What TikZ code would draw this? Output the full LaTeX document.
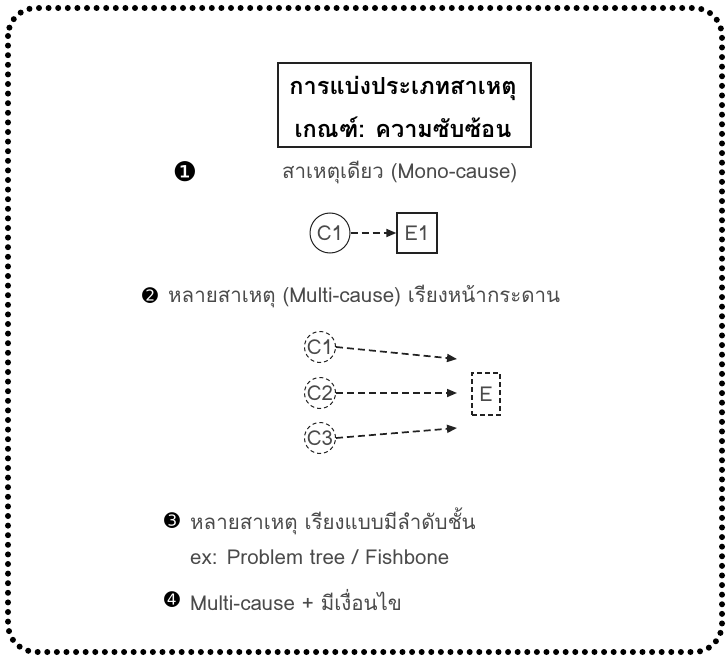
\documentclass[tikz,border=0pt]{standalone}
\usepackage{fontspec}
\setmainfont[Script=Thai]{Loma}
\newfontfamily\thai[Script=Thai]{Loma}
\newfontfamily\dejavu{DejaVu Sans}
\usetikzlibrary{arrows.meta}
\definecolor{txt}{HTML}{4A4A4A}
\definecolor{ln}{HTML}{222222}
\tikzset{
  body/.style={text=txt, font=\thai\fontsize{20.5}{24}\selectfont, inner sep=0pt},
  num/.style={text=black, font=\dejavu\fontsize{19}{20}\selectfont, inner sep=0pt},
  cause/.style={circle, draw=ln, line width=1pt, inner sep=1pt, minimum size=40pt, text=txt, font=\thai\fontsize{20.5}{24}\selectfont},
  dcause/.style={circle, draw=ln, dash pattern=on 4pt off 3pt, line width=1pt, inner sep=0pt, minimum size=31pt, text=txt, font=\thai\fontsize{20.5}{24}\selectfont},
  effect/.style={draw=ln, line width=1.3pt, minimum size=40pt, inner sep=0pt, text=txt, font=\thai\fontsize{20.5}{24}\selectfont},
  deffect/.style={draw=ln, dash pattern=on 5pt off 3pt, line width=1.4pt, minimum width=28pt, minimum height=42pt, inner sep=0pt, text=txt, font=\thai\fontsize{20.5}{24}\selectfont},
  link/.style={draw=ln, line width=1.7pt, dash pattern=on 7pt off 4pt, -{Triangle[length=10pt,width=8pt]}},
}
\begin{document}
\begin{tikzpicture}[x=1pt,y=-1pt]
\useasboundingbox (0,0) rectangle (727,660);
% dotted border
\draw[line width=6pt, line cap=round, dash pattern=on 0pt off 9.6pt, rounded corners=28pt]
  (8,8) rectangle (722,652);
% title
\node[draw=ln, line width=2pt, minimum width=253pt, minimum height=84pt, inner sep=0pt] (title) at (404,105) {};
\node[font=\thai\bfseries\fontsize{23.5}{26}\selectfont, inner sep=0pt] (t1) at (403,88) {การแบ่งประเภทสาเหตุ};
\node[font=\thai\bfseries\fontsize{23.5}{26}\selectfont, inner sep=0pt] (t2) at (403,127) {เกณฑ์: ความซับซ้อน};
% 1
\node[num, font=\dejavu\fontsize{27}{28}\selectfont] (n1) at (185,172) {❶};
\node[body, anchor=west] (s1) at (282,172) {สาเหตุเดียว (Mono-cause)};
\node[cause] (c1) at (330,233) {C1};
\node[effect] (e1) at (417,233) {E1};
\draw[link] (c1) -- (e1.west);
% 2
\node[num] (n2) at (150,296) {➋};
\node[body, anchor=west] (s2) at (168,296) {หลายสาเหตุ (Multi-cause) เรียงหน้ากระดาน};
\node[dcause] (d1) at (320,347) {C1};
\node[dcause] (d2) at (320,393) {C2};
\node[dcause] (d3) at (320,438) {C3};
\node[deffect] (e) at (486,394) {E};
\coordinate (a1) at (457,359);
\coordinate (a2) at (457,393);
\coordinate (a3) at (457,428);
\draw[link] (d1.east) -- (a1);
\draw[link] (d2.east) -- (a2);
\draw[link] (d3.east) -- (a3);
% 3
\node[num] (n3) at (172,521) {➌};
\node[body, anchor=west] (s3) at (190,521) {หลายสาเหตุ เรียงแบบมีลำดับชั้น};
\node[body, anchor=west] (s3b) at (190,557) {ex: Problem tree / Fishbone};
% 4
\node[num] (n4) at (172,600) {➍};
\node[body, anchor=west] (s4) at (190,600) {Multi-cause + มีเงื่อนไข};
\end{tikzpicture}
\end{document}
